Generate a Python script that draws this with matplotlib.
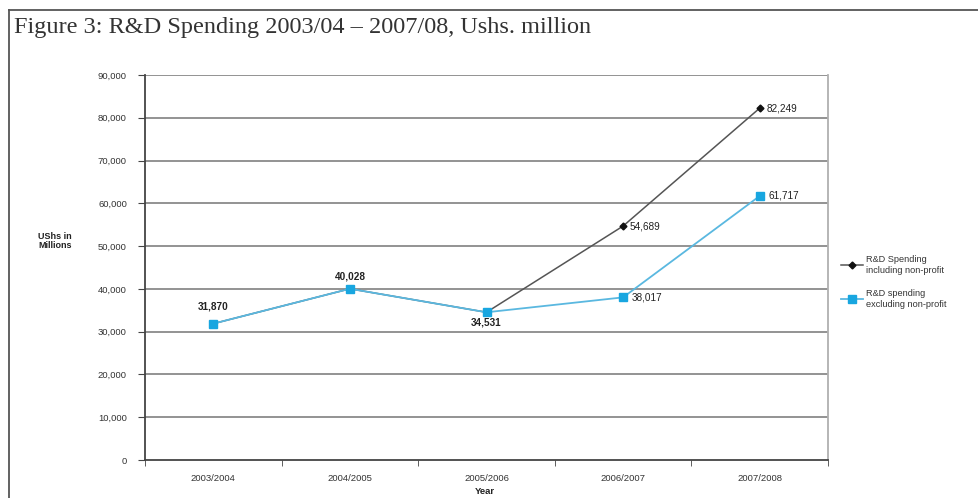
import matplotlib
matplotlib.use("Agg")
import matplotlib.pyplot as plt
from matplotlib.lines import Line2D

years = ["2003/2004", "2004/2005", "2005/2006", "2006/2007", "2007/2008"]
incl_nonprofit = [31870, 40028, 34531, 54689, 82249]
excl_nonprofit = [31870, 40028, 34531, 38017, 61717]
yticks = [0, 10000, 20000, 30000, 40000, 50000, 60000, 70000, 80000, 90000]

W, H = 979, 498
fig = plt.figure(figsize=(W / 100, H / 100), dpi=100)
fig.patch.set_facecolor("white")

# outer frame lines (top and left)
fig.add_artist(Line2D([9 / W, 1], [1 - 10 / H, 1 - 10 / H], color="#555555", lw=1.3, transform=fig.transFigure))
fig.add_artist(Line2D([9 / W, 9 / W], [0, 1 - 10 / H], color="#555555", lw=1.3, transform=fig.transFigure))

fig.text(14 / W, 1 - 28 / H, "Figure 3: R&D Spending 2003/04 \u2013 2007/08, Ushs. million",
         family="Liberation Serif", fontsize=17.5, color="#333333", va="center", ha="left")

ax = fig.add_axes([145 / W, 1 - 460 / H, (828 - 145) / W, (460 - 75) / H])
x = list(range(len(years)))
ax.set_xlim(-0.5, len(years) - 0.5)
ax.set_ylim(0, 90000)

for v in yticks[1:]:
    ax.axhline(v, color="#8a8a8a", lw=1.3, zorder=1)

ax.plot(x, incl_nonprofit, color="#555555", lw=1.1, marker="D", ms=3.5,
        mfc="#111111", mec="#111111", zorder=3)
ax.plot(x, excl_nonprofit, color="#5ab8e0", lw=1.3, marker="s", ms=5.5,
        mfc="#18a6e0", mec="#18a6e0", zorder=4)

lab_font = dict(family="Liberation Sans", fontsize=7.2, color="#222222")
ax.annotate(f"{excl_nonprofit[0]:,}", (x[0], excl_nonprofit[0]), xytext=(0, 9), textcoords="offset points",
            ha="center", va="bottom", fontweight="bold", **lab_font)
ax.annotate(f"{excl_nonprofit[1]:,}", (x[1], excl_nonprofit[1]), xytext=(0, 5), textcoords="offset points",
            ha="center", va="bottom", fontweight="bold", **lab_font)
ax.annotate(f"{excl_nonprofit[2]:,}", (x[2], excl_nonprofit[2]), xytext=(0, -4), textcoords="offset points",
            ha="center", va="top", fontweight="bold", **lab_font)
for i in (3, 4):
    ax.annotate(f"{incl_nonprofit[i]:,}", (x[i], incl_nonprofit[i]), xytext=(5, 0), textcoords="offset points",
                ha="left", va="center", **lab_font)
    ax.annotate(f"{excl_nonprofit[i]:,}", (x[i], excl_nonprofit[i]), xytext=(6, 0), textcoords="offset points",
                ha="left", va="center", **lab_font)

ax.set_yticks(yticks)
ax.set_yticklabels([f"{v:,}" for v in yticks])
ax.set_xticks(x)
ax.set_xticklabels(years)
ax.set_xticks([i - 0.5 for i in range(len(years) + 1)], minor=True)
ax.tick_params(axis="x", which="major", length=0, pad=10)
ax.tick_params(axis="x", which="minor", length=4, direction="out", color="#444444")
ax.tick_params(axis="y", length=5, direction="out", color="#444444", pad=8)
for lab in ax.get_xticklabels() + ax.get_yticklabels():
    lab.set_family("Liberation Sans")
    lab.set_fontsize(6.8)
    lab.set_color("#333333")

for s in ("left", "bottom"):
    ax.spines[s].set_color("#444444")
    ax.spines[s].set_linewidth(1.3)
ax.spines["top"].set_visible(False)
ax.spines["right"].set_color("#b0b0b0")
ax.spines["right"].set_linewidth(1.3)

fig.text(485 / W, 1 - 491 / H, "Year", family="Liberation Sans", fontsize=6.8, fontweight="bold",
         color="#222222", ha="center", va="center")
fig.text(38 / W, 1 - 241 / H, "UShs in\nMillions", family="Liberation Sans", fontsize=6.5, fontweight="bold",
         color="#222222", ha="left", va="center", linespacing=1.0)

handles = [
    Line2D([], [], color="#555555", lw=1.1, marker="D", ms=3.5, mfc="#111111", mec="#111111"),
    Line2D([], [], color="#5ab8e0", lw=1.3, marker="s", ms=5.5, mfc="#18a6e0", mec="#18a6e0"),
]
leg = fig.legend(handles, ["R&D Spending\nincluding non-profit", "R&D spending\nexcluding non-profit"],
                 loc="center left", bbox_to_anchor=(833 / W, 1 - 282 / H), frameon=False,
                 prop={"family": "Liberation Sans", "size": 6.6}, handlelength=2.4, handletextpad=0.3,
                 labelspacing=1.6)
for t in leg.get_texts():
    t.set_color("#333333")

fig.savefig("out.png", dpi=100)
